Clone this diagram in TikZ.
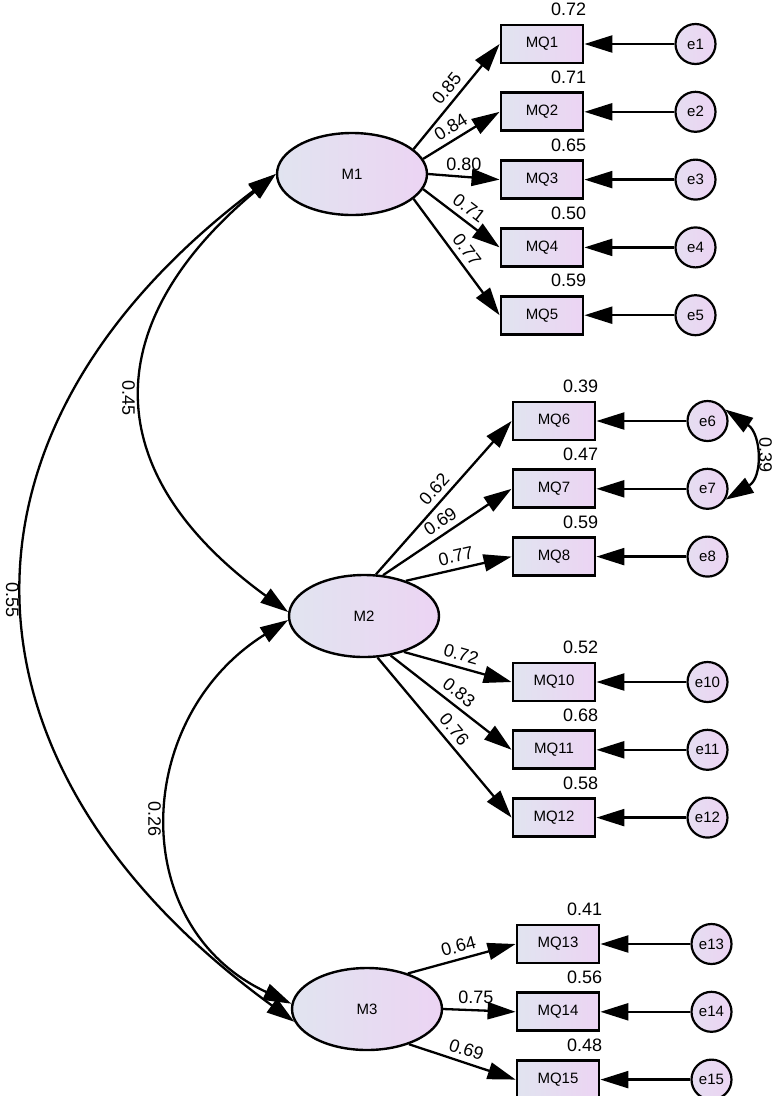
\documentclass[tikz,border=0pt]{standalone}
\usepackage{fontspec}
\setmainfont{Liberation Sans}
\usepackage{tikz}
\usetikzlibrary{positioning,arrows.meta,shapes.geometric}
\definecolor{fillleft}{RGB}{225,228,240}
\definecolor{fillright}{RGB}{236,212,243}

\begin{document}
\begin{tikzpicture}[x=1pt,y=1pt,
	>={Triangle[length=28pt,width=17pt]},
	latent/.style={ellipse,draw,line width=2.4pt,minimum width=150pt,minimum height=82pt,left color=fillleft,right color=fillright,font=\fontsize{15}{17}\selectfont},
	obs/.style={rectangle,draw,line width=2.8pt,minimum width=82pt,minimum height=38pt,left color=fillleft,right color=fillright,font=\fontsize{15}{17}\selectfont},
	err/.style={circle,draw,line width=2.2pt,minimum size=40pt,inner sep=0pt,left color=fillleft!60!fillright,right color=fillright,font=\fontsize{15}{17}\selectfont},
	val/.style={font=\fontsize{18}{21}\selectfont},
	rsq/.style={val,anchor=base east,inner sep=0pt},
	load/.style={->,line width=2.3pt},
	cov/.style={<->,line width=2.3pt}]
	\useasboundingbox (0,0) rectangle (774,-1096);

	\node[latent] (M1) at (352,-174) {M1};
	\node[latent] (M2) at (364,-616) {M2};
	\node[latent] (M3) at (367,-1009) {M3};

	% first factor
	\node[obs] (MQ1) at (542,-44) {MQ1};
	\node[obs,below=27pt of MQ1] (MQ2) {MQ2};
	\node[obs,below=27pt of MQ2] (MQ3) {MQ3};
	\node[obs,below=27pt of MQ3] (MQ4) {MQ4};
	\node[obs,below=27pt of MQ4] (MQ5) {MQ5};

	% second factor
	\node[obs] (MQ6) at (554,-421) {MQ6};
	\node[obs,below=27pt of MQ6] (MQ7) {MQ7};
	\node[obs,below=27pt of MQ7] (MQ8) {MQ8};
	\node[obs] (MQ10) at (554,-682) {MQ10};
	\node[obs,below=27pt of MQ10] (MQ11) {MQ11};
	\node[obs,below=27pt of MQ11] (MQ12) {MQ12};

	% third factor
	\node[obs] (MQ13) at (558,-944) {MQ13};
	\node[obs,below=27pt of MQ13] (MQ14) {MQ14};
	\node[obs,below=27pt of MQ14] (MQ15) {MQ15};

	\node[err,right=90pt of MQ1] (e1) {e1};
	\node[err,right=90pt of MQ2] (e2) {e2};
	\node[err,right=90pt of MQ3] (e3) {e3};
	\node[err,right=90pt of MQ4] (e4) {e4};
	\node[err,right=90pt of MQ5] (e5) {e5};
	\node[err,right=90pt of MQ6] (e6) {e6};
	\node[err,right=90pt of MQ7] (e7) {e7};
	\node[err,right=90pt of MQ8] (e8) {e8};
	\node[err,right=90pt of MQ10] (e10) {e10};
	\node[err,right=90pt of MQ11] (e11) {e11};
	\node[err,right=90pt of MQ12] (e12) {e12};
	\node[err,right=90pt of MQ13] (e13) {e13};
	\node[err,right=90pt of MQ14] (e14) {e14};
	\node[err,right=90pt of MQ15] (e15) {e15};

	% squared multiple correlations
	\node[rsq] (r1) at ([xshift=2pt,yshift=8pt]MQ1.north east) {0.72};
	\node[rsq] (r2) at ([xshift=2pt,yshift=8pt]MQ2.north east) {0.71};
	\node[rsq] (r3) at ([xshift=2pt,yshift=8pt]MQ3.north east) {0.65};
	\node[rsq] (r4) at ([xshift=2pt,yshift=8pt]MQ4.north east) {0.50};
	\node[rsq] (r5) at ([xshift=2pt,yshift=8pt]MQ5.north east) {0.59};
	\node[rsq] (r6) at ([xshift=2pt,yshift=8pt]MQ6.north east) {0.39};
	\node[rsq] (r7) at ([xshift=2pt,yshift=8pt]MQ7.north east) {0.47};
	\node[rsq] (r8) at ([xshift=2pt,yshift=8pt]MQ8.north east) {0.59};
	\node[rsq] (r10) at ([xshift=2pt,yshift=8pt]MQ10.north east) {0.52};
	\node[rsq] (r11) at ([xshift=2pt,yshift=8pt]MQ11.north east) {0.68};
	\node[rsq] (r12) at ([xshift=2pt,yshift=8pt]MQ12.north east) {0.58};
	\node[rsq] (r13) at ([xshift=2pt,yshift=8pt]MQ13.north east) {0.41};
	\node[rsq] (r14) at ([xshift=2pt,yshift=8pt]MQ14.north east) {0.56};
	\node[rsq] (r15) at ([xshift=2pt,yshift=8pt]MQ15.north east) {0.48};

	% loadings
	\path[load] (M1.22) edge node[val,above=2pt,sloped]{0.85} (MQ1.west);
	\path[load] (M1.12) edge node[val,above=2pt,sloped,pos=.45]{0.84} (MQ2.west);
	\path[load] (M1.east) edge node[val,above=2pt]{0.80} (MQ3.west);
	\path[load] (M1.-12) edge node[val,above=2pt,sloped]{0.71} (MQ4.west);
	\path[load] (M1.-22) edge node[val,above=2pt,sloped]{0.77} (MQ5.west);

	\path[load] (M2.74) edge node[val,above=2pt,sloped]{0.62} (MQ6.west);
	\path[load] (M2.65) edge node[val,above=2pt,sloped]{0.69} (MQ7.west);
	\path[load] (M2.40) edge node[val,above=2pt,sloped]{0.77} (MQ8.west);
	\path[load] (M2.-42) edge node[val,above=2pt,sloped]{0.72} (MQ10.west);
	\path[load] (M2.-56) edge node[val,above=2pt,sloped]{0.83} (MQ11.west);
	\path[load] (M2.-72) edge node[val,above=2pt,sloped]{0.76} (MQ12.west);

	\path[load] (M3.41) edge node[val,above=2pt,sloped]{0.64} (MQ13.west);
	\path[load] (M3.east) edge node[val,above=2pt,pos=.45]{0.75} (MQ14.west);
	\path[load] (M3.-40) edge node[val,above=2pt,sloped]{0.69} (MQ15.west);

	% errors
	\path[load] (e1) edge (MQ1);
	\path[load] (e2) edge (MQ2);
	\path[load] (e3) edge (MQ3);
	\path[load] (e4) edge (MQ4);
	\path[load] (e5) edge (MQ5);
	\path[load] (e6) edge (MQ6);
	\path[load] (e7) edge (MQ7);
	\path[load] (e8) edge (MQ8);
	\path[load] (e10) edge (MQ10);
	\path[load] (e11) edge (MQ11);
	\path[load] (e12) edge (MQ12);
	\path[load] (e13) edge (MQ13);
	\path[load] (e14) edge (MQ14);
	\path[load] (e15) edge (MQ15);

	% covariances
	\draw[cov] (M1.west) to[out=220,in=144,looseness=1.37] node[val,pos=.5,rotate=-90,anchor=north,inner sep=7pt]{0.45} (M2.177);
	\draw[cov] (M1.west) to[out=217,in=144,looseness=1.3] node[val,pos=.5,rotate=-90,anchor=north,inner sep=5pt]{0.55} (M3.190);
	\draw[cov] (M2.183) to[out=212,in=155,looseness=1.22] node[val,pos=.5,rotate=-90,anchor=north,inner sep=7pt]{0.26} (M3.176);
	\draw[cov] (e6.33) to[out=-34,in=31,looseness=1.24] node[val,pos=.5,rotate=-90,anchor=south,inner sep=5pt]{0.39} (e7.-31);
\end{tikzpicture}
\end{document}
